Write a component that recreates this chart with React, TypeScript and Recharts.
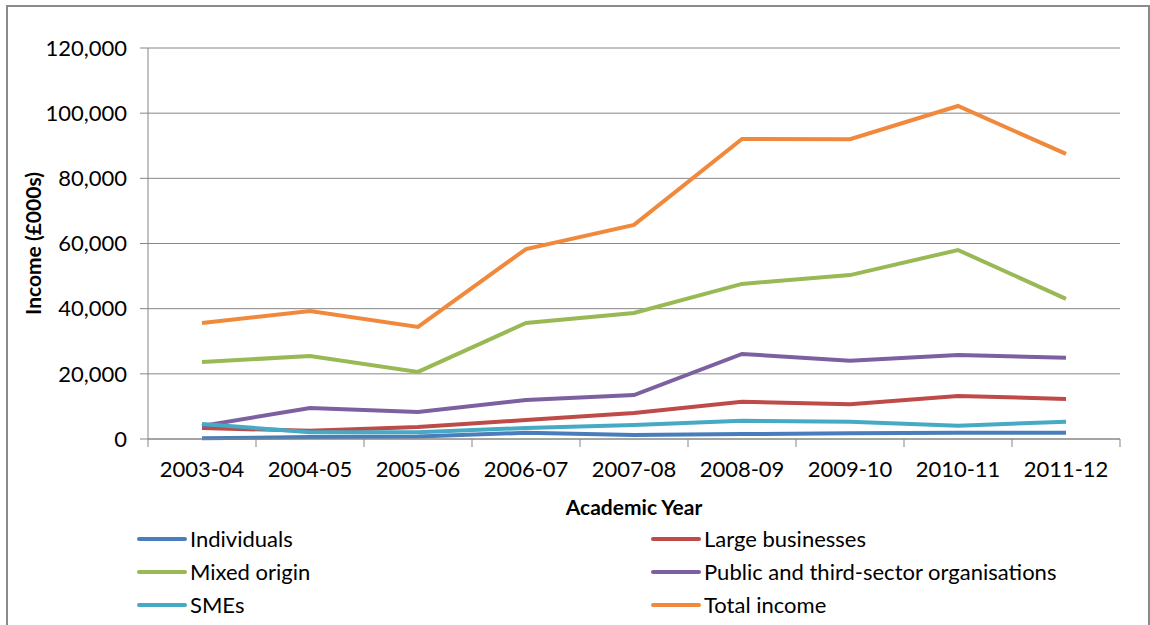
import { LineChart, Line, CartesianGrid, XAxis, YAxis, Label } from 'recharts';

// Academic years on the x axis
const years = ['2003-04', '2004-05', '2005-06', '2006-07', '2007-08', '2008-09', '2009-10', '2010-11', '2011-12'];

// Income in £000s
const individuals = [200, 600, 800, 1900, 1200, 1500, 1800, 1900, 1900];
const largeBusinesses = [3400, 2500, 3700, 5800, 8000, 11400, 10700, 13200, 12300];
const mixedOrigin = [23600, 25500, 20600, 35600, 38700, 47600, 50300, 58000, 43000];
const publicThird = [4000, 9500, 8300, 12000, 13500, 26100, 24000, 25800, 24900];
const smes = [4600, 2100, 2100, 3400, 4300, 5600, 5300, 4100, 5300];
const totalIncome = [35600, 39300, 34400, 58300, 65700, 92100, 92000, 102200, 87500];

const yTicks = [0, 20000, 40000, 60000, 80000, 100000, 120000];

const series = [
  { key: 'individuals', name: 'Individuals', color: '#4A7EBB', values: individuals },
  { key: 'large', name: 'Large businesses', color: '#BE4B48', values: largeBusinesses },
  { key: 'mixed', name: 'Mixed origin', color: '#98B954', values: mixedOrigin },
  { key: 'public', name: 'Public and third-sector organisations', color: '#7D60A0', values: publicThird },
  { key: 'smes', name: 'SMEs', color: '#46AAC5', values: smes },
  { key: 'total', name: 'Total income', color: '#F1893C', values: totalIncome },
];

const data = years.map((year, i) => {
  const row: Record<string, string | number> = { year };
  series.forEach(s => { row[s.key] = s.values[i]; });
  return row;
});

const FONT = 'Lato, "Liberation Sans", sans-serif';
const AXIS = '#868686';
const CHART_W = 1140;
const CHART_H = 625;
const MARGIN = { top: 41, right: 28, left: 0, bottom: 113 };
const Y_AXIS_W = 140;
const HALF_BAND = (CHART_W - MARGIN.left - MARGIN.right - Y_AXIS_W) / years.length / 2;

// x tick: label in the middle of the band, tick mark on the band edges (Excel style)
const YearTick = (props: any) => {
  const { x, y, payload, index } = props;
  return (
    <g>
      <line x1={x - HALF_BAND} x2={x - HALF_BAND} y1={y - 22} y2={y - 14} stroke={AXIS} />
      {index === years.length - 1 && (
        <line x1={x + HALF_BAND} x2={x + HALF_BAND} y1={y - 22} y2={y - 14} stroke={AXIS} />
      )}
      <text x={x} y={y} dy={16} textAnchor="middle" fill="#000" fontSize={22} fontFamily={FONT}>
        {payload.value}
      </text>
    </g>
  );
};

export default function App() {
  return (
    <div
      style={{
        position: 'absolute',
        left: 6,
        top: 5,
        width: CHART_W,
        height: CHART_H,
        border: '2px solid #8a8a8a',
        background: '#fff',
      }}
    >
      <LineChart width={CHART_W} height={CHART_H} data={data} margin={MARGIN}>
        <CartesianGrid vertical={false} stroke={AXIS} />
        <XAxis
          dataKey="year"
          interval={0}
          padding={{ left: HALF_BAND, right: HALF_BAND }}
          tickLine={false}
          tickSize={8}
          tickMargin={14}
          axisLine={{ stroke: AXIS }}
          tick={<YearTick />}
          height={80}
        >
          <Label
            value="Academic Year"
            position="insideBottom"
            offset={4}
            style={{ fontFamily: FONT, fontSize: 21, fontWeight: 'bold', fill: '#000' }}
          />
        </XAxis>
        <YAxis
          width={Y_AXIS_W}
          domain={[0, 120000]}
          ticks={yTicks}
          interval={0}
          tickSize={8}
          tickMargin={13}
          tickLine={{ stroke: AXIS }}
          axisLine={{ stroke: AXIS }}
          tick={{ fill: '#000', fontSize: 22, fontFamily: FONT }}
          tickFormatter={(v: number) => v.toLocaleString('en-GB')}
        >
          <Label
            content={({ viewBox }: any) => (
              <text
                x={24}
                y={viewBox.y + viewBox.height / 2}
                transform={`rotate(-90, 24, ${viewBox.y + viewBox.height / 2})`}
                textAnchor="middle"
                dominantBaseline="central"
                fontFamily={FONT}
                fontSize={21}
                fontWeight="bold"
                fill="#000"
              >
                Income (£000s)
              </text>
            )}
          />
        </YAxis>
        {series.map(s => (
          <Line
            key={s.key}
            dataKey={s.key}
            name={s.name}
            stroke={s.color}
            strokeWidth={4}
            dot={false}
            type="linear"
            isAnimationActive={false}
          />
        ))}
      </LineChart>
      <div
        style={{
          position: 'absolute',
          left: 129,
          top: 515,
          width: 1000,
          display: 'grid',
          gridTemplateColumns: '514px 480px',
          rowGap: 0,
          fontFamily: FONT,
          fontSize: 22,
        }}
      >
        {series.map(s => (
          <div key={s.key} style={{ display: 'flex', alignItems: 'center', height: 33 }}>
            <span style={{ width: 50, height: 4, background: s.color, marginRight: 3, borderRadius: 2 }} />
            <span>{s.name}</span>
          </div>
        ))}
      </div>
    </div>
  );
}
